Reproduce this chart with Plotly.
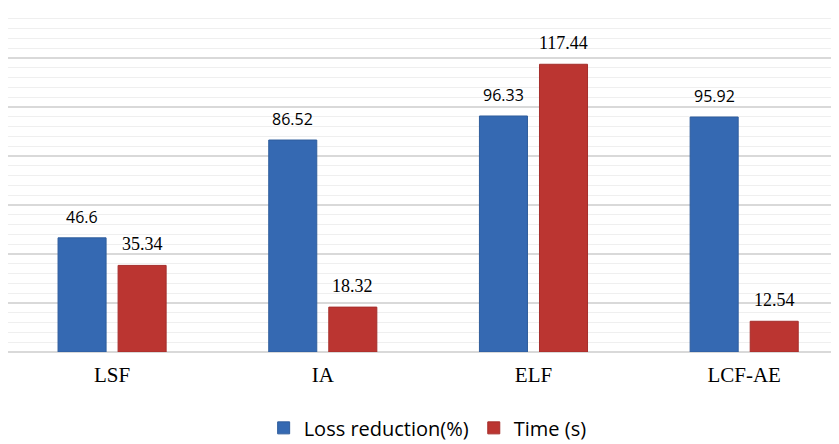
import plotly.graph_objects as go

categories = ["LSF", "IA", "ELF", "LCF-AE"]
loss_reduction = [46.6, 86.52, 96.33, 95.92]
time_s = [35.34, 18.32, 117.44, 12.54]

fig = go.Figure()
fig.add_trace(go.Bar(
    x=categories, y=loss_reduction, name="Loss reduction(%)",
    marker=dict(color="#3569b2", line=dict(color="#2f5d9c", width=1)),
))
fig.add_trace(go.Bar(
    x=categories, y=time_s, name="Time (s)",
    marker=dict(color="#bb3531", line=dict(color="#a52e2b", width=1)),
))

# value labels sit ~21px above each bar; blue ones are sans, red ones serif
for cat, v in zip(categories, loss_reduction):
    fig.add_annotation(x=cat, y=v, text=str(v), showarrow=False, xshift=-30, yshift=21,
                       font=dict(family="Open Sans", size=16, color="#000000"))
for cat, v in zip(categories, time_s):
    fig.add_annotation(x=cat, y=v, text=str(v), showarrow=False, xshift=30, yshift=21,
                       font=dict(family="Liberation Serif", size=18, color="#000000"))

# page body adds an 8px offset, so the figure is sized to fit what remains
fig.update_layout(
    width=831, height=436,
    margin=dict(l=0, r=0, t=1, b=92, autoexpand=False),
    paper_bgcolor="white", plot_bgcolor="white",
    barmode="group", bargap=0.43, bargroupgap=0.2,
    showlegend=True,
    legend=dict(orientation="h", x=0.505, xanchor="center", xref="container",
                y=0.037, yanchor="middle", yref="container",
                font=dict(family="Open Sans", size=20, color="#000000"),
                itemwidth=30, traceorder="normal"),
    xaxis=dict(range=[-0.494, 3.45], showgrid=False, showline=False, automargin=False,
               ticks="outside", ticklen=4, tickcolor="rgba(0,0,0,0)",
               tickfont=dict(family="Liberation Serif", size=21, color="#000000")),
    yaxis=dict(range=[0, 140], dtick=20, showticklabels=False, showline=False,
               automargin=False,
               gridcolor="#d9d9d9", gridwidth=1.5, zeroline=True, zerolinecolor="#d9d9d9",
               zerolinewidth=1.5,
               minor=dict(dtick=4, showgrid=True, gridcolor="#efefef", gridwidth=1)),
)

fig.write_html("out.html")
